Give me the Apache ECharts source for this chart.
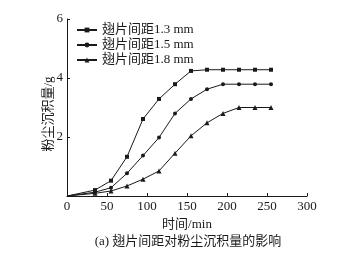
<!DOCTYPE html>
<html><head><meta charset="utf-8">
<script src="https://cdn.jsdelivr.net/npm/echarts@6/dist/echarts.min.js"></script>
<style>html,body{margin:0;padding:0;background:#fff}#c{width:359px;height:257px}</style>
</head><body><div id="c"></div>
<script>
const times = [0, 35, 55, 75, 95, 115, 135, 155, 175, 195, 215, 235, 255];
const s13 = [0, 0.20, 0.52, 1.33, 2.61, 3.29, 3.79, 4.24, 4.28, 4.28, 4.28, 4.28, 4.28];
const s15 = [0, 0.13, 0.28, 0.77, 1.37, 1.98, 2.80, 3.29, 3.62, 3.79, 3.79, 3.79, 3.79];
const s18 = [0, 0.09, 0.17, 0.34, 0.57, 0.85, 1.45, 2.04, 2.48, 2.80, 3.00, 3.00, 3.00];
const names = ['翅片间距1.3 mm', '翅片间距1.5 mm', '翅片间距1.8 mm'];
const symbols = ['rect', 'circle', 'triangle'];
const xTicks = [0, 50, 100, 150, 200, 250, 300];
const yTicks = [0, 2, 4, 6];
const font = '"Liberation Serif", "Noto Sans CJK SC", serif';
const col = '#1a1a1a';
function mk(i, vals) {
  return {
    name: names[i], type: 'line', symbol: symbols[i],
    symbolSize: i === 2 ? 5 : 4,
    data: times.map((t, k) => k === 0 ? {value: [t, vals[k]], symbolSize: 0} : [t, vals[k]]),
    lineStyle: {color: col, width: 1}, itemStyle: {color: col},
    emphasis: {disabled: true}
  };
}
const chart = echarts.init(document.getElementById('c'));
chart.setOption({
  animation: false,
  textStyle: {fontFamily: font},
  grid: {left: 67, right: 52, top: 19, bottom: 61},
  legend: {
    orient: 'vertical', left: 71, top: 18, itemWidth: 20, itemHeight: 6, itemGap: 1,
    textStyle: {fontFamily: font, fontSize: 13, color: col, lineHeight: 14},
    data: names
  },
  title: {
    text: '(a) 翅片间距对粉尘沉积量的影响', left: 183, top: 230, textAlign: 'center',
    textStyle: {fontFamily: font, fontSize: 13, fontWeight: 'normal', color: col}
  },
  xAxis: {
    type: 'value', min: 0, max: 300, interval: 50,
    name: '时间/min', nameLocation: 'middle', nameGap: 20,
    nameTextStyle: {fontFamily: font, fontSize: 13, color: col},
    axisLine: {lineStyle: {color: col, width: 1}},
    axisTick: {inside: true, length: 3, lineStyle: {color: col}},
    axisLabel: {fontFamily: font, fontSize: 13, color: col, margin: 4,
      formatter: v => xTicks.includes(v) ? String(v) : ''},
    splitLine: {show: false}
  },
  yAxis: {
    type: 'value', min: 0, max: 6, interval: 2,
    name: '粉尘沉积量/g', nameLocation: 'middle', nameGap: 12, nameRotate: 90,
    nameMoveOverlap: false,
    nameTextStyle: {fontFamily: font, fontSize: 13, color: col, padding: [0, 13, 0, 0]},
    axisLine: {show: true, lineStyle: {color: col, width: 1}},
    axisTick: {show: true, inside: true, length: 3, lineStyle: {color: col}},
    axisLabel: {fontFamily: font, fontSize: 13, color: col, margin: 4, showMinLabel: false,
      formatter: v => yTicks.includes(v) ? String(v) : ''},
    splitLine: {show: false}
  },
  series: [mk(0, s13), mk(1, s15), mk(2, s18)]
});
</script></body></html>
